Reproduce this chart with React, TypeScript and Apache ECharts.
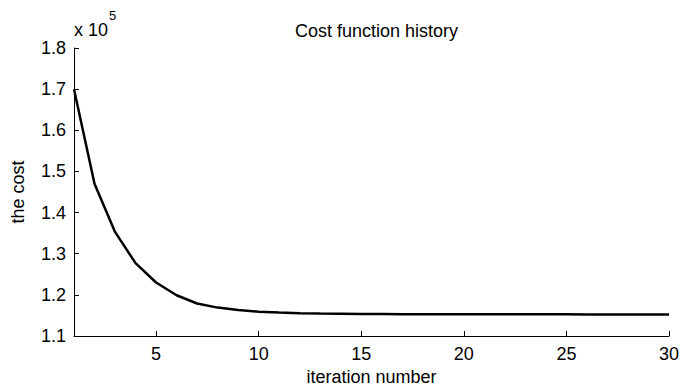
import React, { useEffect, useRef } from "react";
import * as echarts from "echarts";

const iterations: number[] = Array.from({ length: 30 }, (_, i) => i + 1);
const costValues: number[] = [
  170000, 147000, 135300, 127700, 123000, 119900, 117900, 116900, 116300, 115900,
  115700, 115550, 115450, 115400, 115350, 115330, 115310, 115300, 115290, 115280,
  115275, 115270, 115265, 115260, 115258, 115255, 115253, 115250, 115248, 115246,
];
const xTickValues: number[] = [5, 10, 15, 20, 25, 30];
const yTickValues: number[] = [110000, 120000, 130000, 140000, 150000, 160000, 170000, 180000];

const FONT = "Liberation Sans, Arial, sans-serif";

export default function App() {
  const ref = useRef<HTMLDivElement>(null);
  useEffect(() => {
    if (!ref.current) return;
    const chart = echarts.init(ref.current, undefined, { renderer: "svg" });
    chart.setOption({
      animation: false,
      backgroundColor: "#ffffff",
      textStyle: { fontFamily: FONT },
      title: {
        text: "Cost function history",
        left: 371.5,
        textAlign: "center",
        top: 17,
        textStyle: { fontFamily: FONT, fontSize: 18, fontWeight: "normal", color: "#000" },
      },
      graphic: [
        {
          type: "text",
          left: 74,
          top: 21,
          style: { text: "x 10", fontFamily: FONT, fontSize: 18, fill: "#000" },
        },
        {
          type: "text",
          left: 109,
          top: 9,
          style: { text: "5", fontFamily: FONT, fontSize: 13, fill: "#000" },
        },
      ],
      grid: { left: 74, right: 12, top: 48, bottom: 51, containLabel: false, outerBoundsMode: "none" },
      xAxis: {
        type: "value",
        min: 1,
        max: 30,
        name: "iteration number",
        nameLocation: "middle",
        nameGap: 32,
        nameTextStyle: { fontFamily: FONT, fontSize: 18, color: "#000" },
        axisLine: { show: true, lineStyle: { color: "#000", width: 1 } },
        axisTick: { show: true, inside: true, length: 5, customValues: xTickValues, lineStyle: { color: "#000" } },
        axisLabel: {
          customValues: xTickValues,
          fontFamily: FONT,
          fontSize: 18,
          color: "#000",
          margin: 9,
        },
        splitLine: { show: false },
      },
      yAxis: {
        type: "value",
        min: 110000,
        max: 180000,
        interval: 10000,
        name: "the cost",
        nameLocation: "middle",
        nameGap: 47,
        nameRotate: 90,
        nameTextStyle: { fontFamily: FONT, fontSize: 18, color: "#000" },
        axisLine: { show: true, lineStyle: { color: "#000", width: 1 } },
        axisTick: { show: true, inside: true, length: 5, customValues: yTickValues, lineStyle: { color: "#000" } },
        axisLabel: {
          customValues: yTickValues,
          formatter: (v: number) => (v / 100000).toFixed(1),
          fontFamily: FONT,
          fontSize: 18,
          color: "#000",
          margin: 8,
        },
        splitLine: { show: false },
      },
      series: [
        {
          type: "line",
          data: iterations.map((it, i) => [it, costValues[i]]),
          showSymbol: false,
          symbol: "none",
          lineStyle: { color: "#000", width: 2.5 },
        },
      ],
    });
    return () => chart.dispose();
  }, []);
  return (
    <div
      ref={ref}
      style={{ position: "fixed", left: 0, top: 0, width: 681, height: 387, background: "#fff" }}
    />
  );
}
